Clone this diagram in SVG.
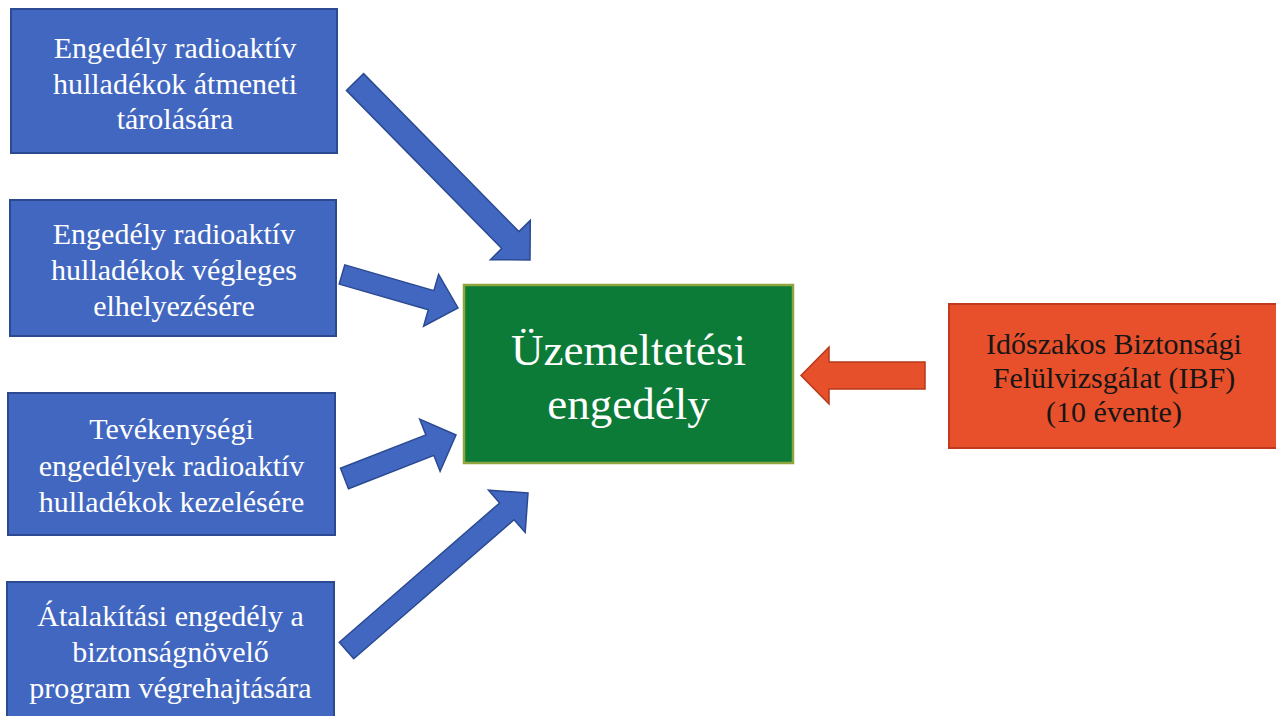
<svg xmlns="http://www.w3.org/2000/svg" width="1276" height="716" viewBox="0 0 1276 716">
<style>
.bg{fill:#ffffff}
.blue{fill:#4267c0;stroke:#2b4a92;stroke-width:2}
.green{fill:#0c7b38;stroke:#8fa53e;stroke-width:2.5}
.orange{fill:#e8502b;stroke:#c13a1d;stroke-width:2}
.barrow{fill:#4267c0;stroke:#2b4a92;stroke-width:1.5;stroke-linejoin:miter}
.oarrow{fill:#e6502a;stroke:#b53a1c;stroke-width:1.5}
text{font-family:"Liberation Serif","Times New Roman",serif;text-anchor:middle}
.wt{fill:#ffffff;font-size:30px}
.gt{fill:#ffffff;font-size:45px}
.ot{fill:#161616;font-size:30px}
</style>
<rect class="bg" x="0" y="0" width="1276" height="716"/>
<g id="connectors">
<polygon class="barrow" points="346.4,90.4 501.8,248.4 490.4,259.7 530,260 530.3,220.4 518.9,231.6 363.6,73.6"/>
<polygon class="barrow" points="339.2,284.1 428.3,309.8 423.6,326.2 458,308 438.6,274.3 433.9,290.6 344.8,264.9"/>
<polygon class="barrow" points="348.5,488.8 433.9,455.4 440.1,471.3 456,435 419.7,419.1 425.9,434.9 340.5,468.3"/>
<polygon class="barrow" points="353.7,658.8 514.1,519.7 525.2,532.5 528,493 488.5,490.2 499.6,503.0 339.3,642.2"/>
<polygon class="oarrow" points="925,362 829,362 829,347 801,375.5 829,404 829,389 925,389"/>
</g>
<g id="box1">
<rect class="blue" x="11" y="9" width="326" height="144"/>
<text class="wt" x="175" y="58">Engedély radioaktív</text>
<text class="wt" x="175" y="94">hulladékok átmeneti</text>
<text class="wt" x="175" y="129">tárolására</text>
</g>
<g id="box2">
<rect class="blue" x="10" y="200" width="326" height="136"/>
<text class="wt" x="174" y="244">Engedély radioaktív</text>
<text class="wt" x="174" y="280">hulladékok végleges</text>
<text class="wt" x="174" y="316">elhelyezésére</text>
</g>
<g id="box3">
<rect class="blue" x="8" y="393" width="327" height="142"/>
<text class="wt" x="171.5" y="439">Tevékenységi</text>
<text class="wt" x="171.5" y="476">engedélyek radioaktív</text>
<text class="wt" x="171.5" y="512">hulladékok kezelésére</text>
</g>
<g id="box4">
<rect class="blue" x="7" y="582" width="327" height="140"/>
<text class="wt" x="170.5" y="626">Átalakítási engedély a</text>
<text class="wt" x="170.5" y="662">biztonságnövelő</text>
<text class="wt" x="170.5" y="698">program végrehajtására</text>
</g>
<g id="center">
<rect class="green" x="464" y="285" width="329" height="178"/>
<text class="gt" x="628.5" y="365">Üzemeltetési</text>
<text class="gt" x="628.5" y="419">engedély</text>
</g>
<g id="ibf">
<rect class="orange" x="949" y="304" width="335" height="144"/>
<text class="ot" x="1114" y="354">Időszakos Biztonsági</text>
<text class="ot" x="1114" y="388">Felülvizsgálat (IBF)</text>
<text class="ot" x="1114" y="422">(10 évente)</text>
</g>
</svg>
